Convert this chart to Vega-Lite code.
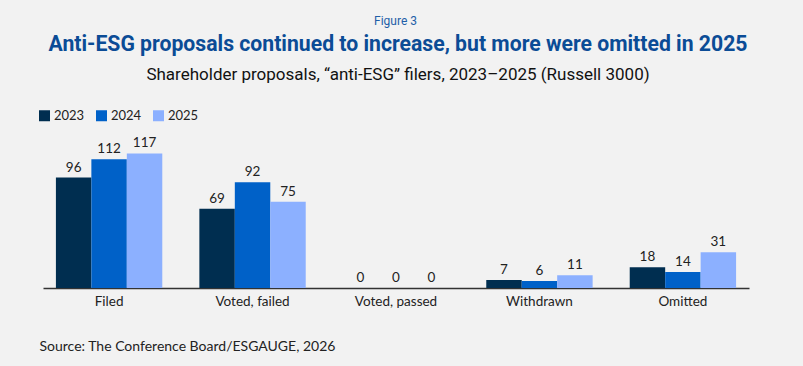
{
  "$schema": "https://vega.github.io/schema/vega-lite/v6.json",
  "background": "#f2f2f2",
  "padding": {"left": 38, "top": 14, "right": 59, "bottom": 13},
  "title": {
    "text": "Figure 3",
    "fontSize": 12,
    "font": "Roboto",
    "fontWeight": "normal",
    "color": "#1f5fa8",
    "anchor": "middle",
    "dx": 2,
    "offset": 6
  },
  "vconcat": [
    {
      "width": 706,
      "height": 184,
      "title": {
        "text": "Anti-ESG proposals continued to increase, but more were omitted in 2025",
        "subtitle": "Shareholder proposals, “anti-ESG” filers, 2023–2025 (Russell 3000)",
        "fontSize": 21.2,
        "font": "Roboto",
        "fontWeight": "bold",
        "color": "#0b4c96",
        "subtitleFont": "Roboto",
        "subtitleFontSize": 17,
        "subtitleColor": "#111111",
        "subtitlePadding": 12,
        "anchor": "middle",
        "dx": 2,
        "offset": 21
      },
      "data": {
        "values": [
          {"category": "Filed", "year": "2023", "value": 96},
          {"category": "Filed", "year": "2024", "value": 112},
          {"category": "Filed", "year": "2025", "value": 117},
          {"category": "Voted, failed", "year": "2023", "value": 69},
          {"category": "Voted, failed", "year": "2024", "value": 92},
          {"category": "Voted, failed", "year": "2025", "value": 75},
          {"category": "Voted, passed", "year": "2023", "value": 0},
          {"category": "Voted, passed", "year": "2024", "value": 0},
          {"category": "Voted, passed", "year": "2025", "value": 0},
          {"category": "Withdrawn", "year": "2023", "value": 7},
          {"category": "Withdrawn", "year": "2024", "value": 6},
          {"category": "Withdrawn", "year": "2025", "value": 11},
          {"category": "Omitted", "year": "2023", "value": 18},
          {"category": "Omitted", "year": "2024", "value": 14},
          {"category": "Omitted", "year": "2025", "value": 31}
        ]
      },
      "encoding": {
        "x": {
          "field": "category",
          "type": "nominal",
          "sort": null,
          "scale": {"paddingInner": 0.2585, "paddingOuter": 0.09},
          "axis": {
            "title": "Source: The Conference Board/ESGAUGE, 2026",
            "titleFont": "Lato",
            "titleFontSize": 14,
            "titleFontWeight": "normal",
            "titleColor": "#222222",
            "titleAnchor": "start",
            "titleAlign": "left",
            "titleBaseline": "middle",
            "titleX": -4,
            "titleY": 58,
            "labelAngle": 0,
            "labelFont": "Lato",
            "labelFontSize": 13.5,
            "labelColor": "#222222",
            "labelPadding": 6,
            "ticks": false,
            "domainColor": "#333333",
            "domainWidth": 1.5
          }
        },
        "xOffset": {
          "field": "year",
          "type": "nominal",
          "scale": {"paddingInner": 0, "paddingOuter": 0}
        },
        "y": {
          "field": "value",
          "type": "quantitative",
          "scale": {"domain": [0, 160], "nice": false},
          "axis": null
        }
      },
      "layer": [
        {
          "mark": {"type": "bar"},
          "encoding": {
            "color": {
              "field": "year",
              "type": "nominal",
              "scale": {"domain": ["2023", "2024", "2025"], "range": ["#002e50", "#0061c8", "#8cb0ff"]},
              "legend": {
                "title": null,
                "orient": "none",
                "legendX": -5,
                "legendY": 5,
                "direction": "horizontal",
                "columns": 3,
                "columnPadding": 10,
                "symbolType": "square",
                "symbolSize": 121,
                "symbolStrokeWidth": 0,
                "symbolOpacity": 1,
                "labelFont": "Lato",
                "labelFontSize": 13,
                "labelColor": "#222222",
                "labelOffset": 3
              }
            }
          }
        },
        {
          "mark": {
            "type": "text",
            "baseline": "bottom",
            "dy": -3,
            "font": "Lato",
            "fontSize": 13.5,
            "color": "#222222"
          },
          "encoding": {
            "text": {"field": "value", "type": "quantitative"}
          }
        }
      ]
    }
  ],
  "config": {"view": {"stroke": null}}
}
